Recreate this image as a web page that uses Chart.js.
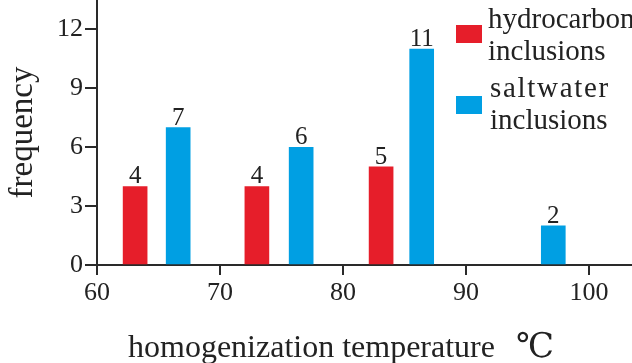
<!DOCTYPE html>
<html>
<head>
<meta charset="utf-8">
<script src="https://cdn.jsdelivr.net/npm/chart.js@4/dist/chart.umd.min.js"></script>
<style>
html,body{margin:0;padding:0;background:#fff;}
#wrap{position:relative;width:632px;height:363px;overflow:hidden;background:#fff;}
#c{position:absolute;left:0;top:0;}
.txt{position:absolute;font-family:"Liberation Serif",serif;color:#222;white-space:nowrap;}
.lg{font-size:29px;line-height:32px;}
.sw{position:absolute;width:26px;height:18px;}
#xt{font-size:32px;line-height:32px;left:128px;top:329px;}
#deg{font-family:"DejaVu Serif","Liberation Serif",serif;font-size:34px;margin-left:21px;}
</style>
</head>
<body>
<div id="wrap">
  <canvas id="c" width="632" height="363"></canvas>
  <div class="sw" style="left:456px;top:25px;background:#E61E2A;"></div>
  <div class="txt lg" style="left:488px;top:2px;">hydrocarbon<br>inclusions</div>
  <div class="sw" style="left:456px;top:96px;background:#009FE3;"></div>
  <div class="txt lg" style="left:490px;top:71px;"><span style="letter-spacing:1.7px">saltwater</span><br>inclusions</div>
  <div id="xt" class="txt">homogenization temperature<span id="deg">℃</span></div>
</div>
<script>
// Data
const hydroTemps = [63.1, 73.0, 83.1];
const hydroCounts = [4, 4, 5];
const saltTemps = [66.6, 76.6, 86.4, 97.1];
const saltCounts = [7, 6, 11, 2];
const seriesNames = ['hydrocarbon inclusions', 'saltwater inclusions'];
const xTicks = [60, 70, 80, 90, 100];
const yTicks = [0, 3, 6, 9, 12];

const FONT = 'Liberation Serif';
const INK = '#222222';
const AXIS = '#2a2a2a';

const toPoints = (xs, ys) => xs.map((x, i) => ({x: x, y: ys[i]}));

const valueLabels = {
  id: 'valueLabels',
  afterDatasetsDraw(chart) {
    const ctx = chart.ctx;
    ctx.save();
    ctx.font = '25px "' + FONT + '"';
    ctx.fillStyle = INK;
    ctx.textAlign = 'center';
    ctx.textBaseline = 'alphabetic';
    chart.data.datasets.forEach((ds, i) => {
      chart.getDatasetMeta(i).data.forEach((bar, j) => {
        ctx.fillText(String(ds.data[j].y), bar.x, bar.y - 3);
      });
    });
    ctx.restore();
  }
};

new Chart(document.getElementById('c'), {
  type: 'bar',
  data: {
    datasets: [
      {label: seriesNames[0], data: toPoints(hydroTemps, hydroCounts), backgroundColor: '#E61E2A'},
      {label: seriesNames[1], data: toPoints(saltTemps, saltCounts), backgroundColor: '#009FE3'}
    ]
  },
  options: {
    responsive: false,
    animation: false,
    devicePixelRatio: 1,
    grouped: false,
    barThickness: 24,
    layout: {padding: 0},
    plugins: {legend: {display: false}, tooltip: {enabled: false}},
    scales: {
      x: {
        type: 'linear', min: 60, max: 103.5, offset: false,
        afterBuildTicks(s) { s.ticks = xTicks.map(v => ({value: v})); },
        ticks: {font: {family: FONT, size: 26}, color: INK, padding: 3, maxRotation: 0},
        grid: {display: true, drawOnChartArea: false, drawTicks: true, tickLength: 10, tickColor: AXIS, tickWidth: 2, lineWidth: 2, offset: false},
        border: {display: true, color: AXIS, width: 2},
        afterFit(s) { s.height = 98; s.paddingLeft = 0; s.paddingRight = 0; }
      },
      y: {
        type: 'linear', min: 0, max: 13.5,
        afterBuildTicks(s) { s.ticks = yTicks.map(v => ({value: v})); },
        ticks: {font: {family: FONT, size: 26}, color: INK, padding: 2},
        grid: {display: true, drawOnChartArea: false, drawTicks: true, tickLength: 12, tickColor: AXIS, tickWidth: 2, lineWidth: 2},
        border: {display: true, color: AXIS, width: 2},
        title: {display: true, text: 'frequency', font: {family: FONT, size: 33}, color: INK, padding: {top: 4, bottom: 0}},
        afterFit(s) { s.width = 97; s.paddingTop = 0; s.paddingBottom = 0; }
      }
    }
  },
  plugins: [valueLabels]
});
</script>
</body>
</html>
